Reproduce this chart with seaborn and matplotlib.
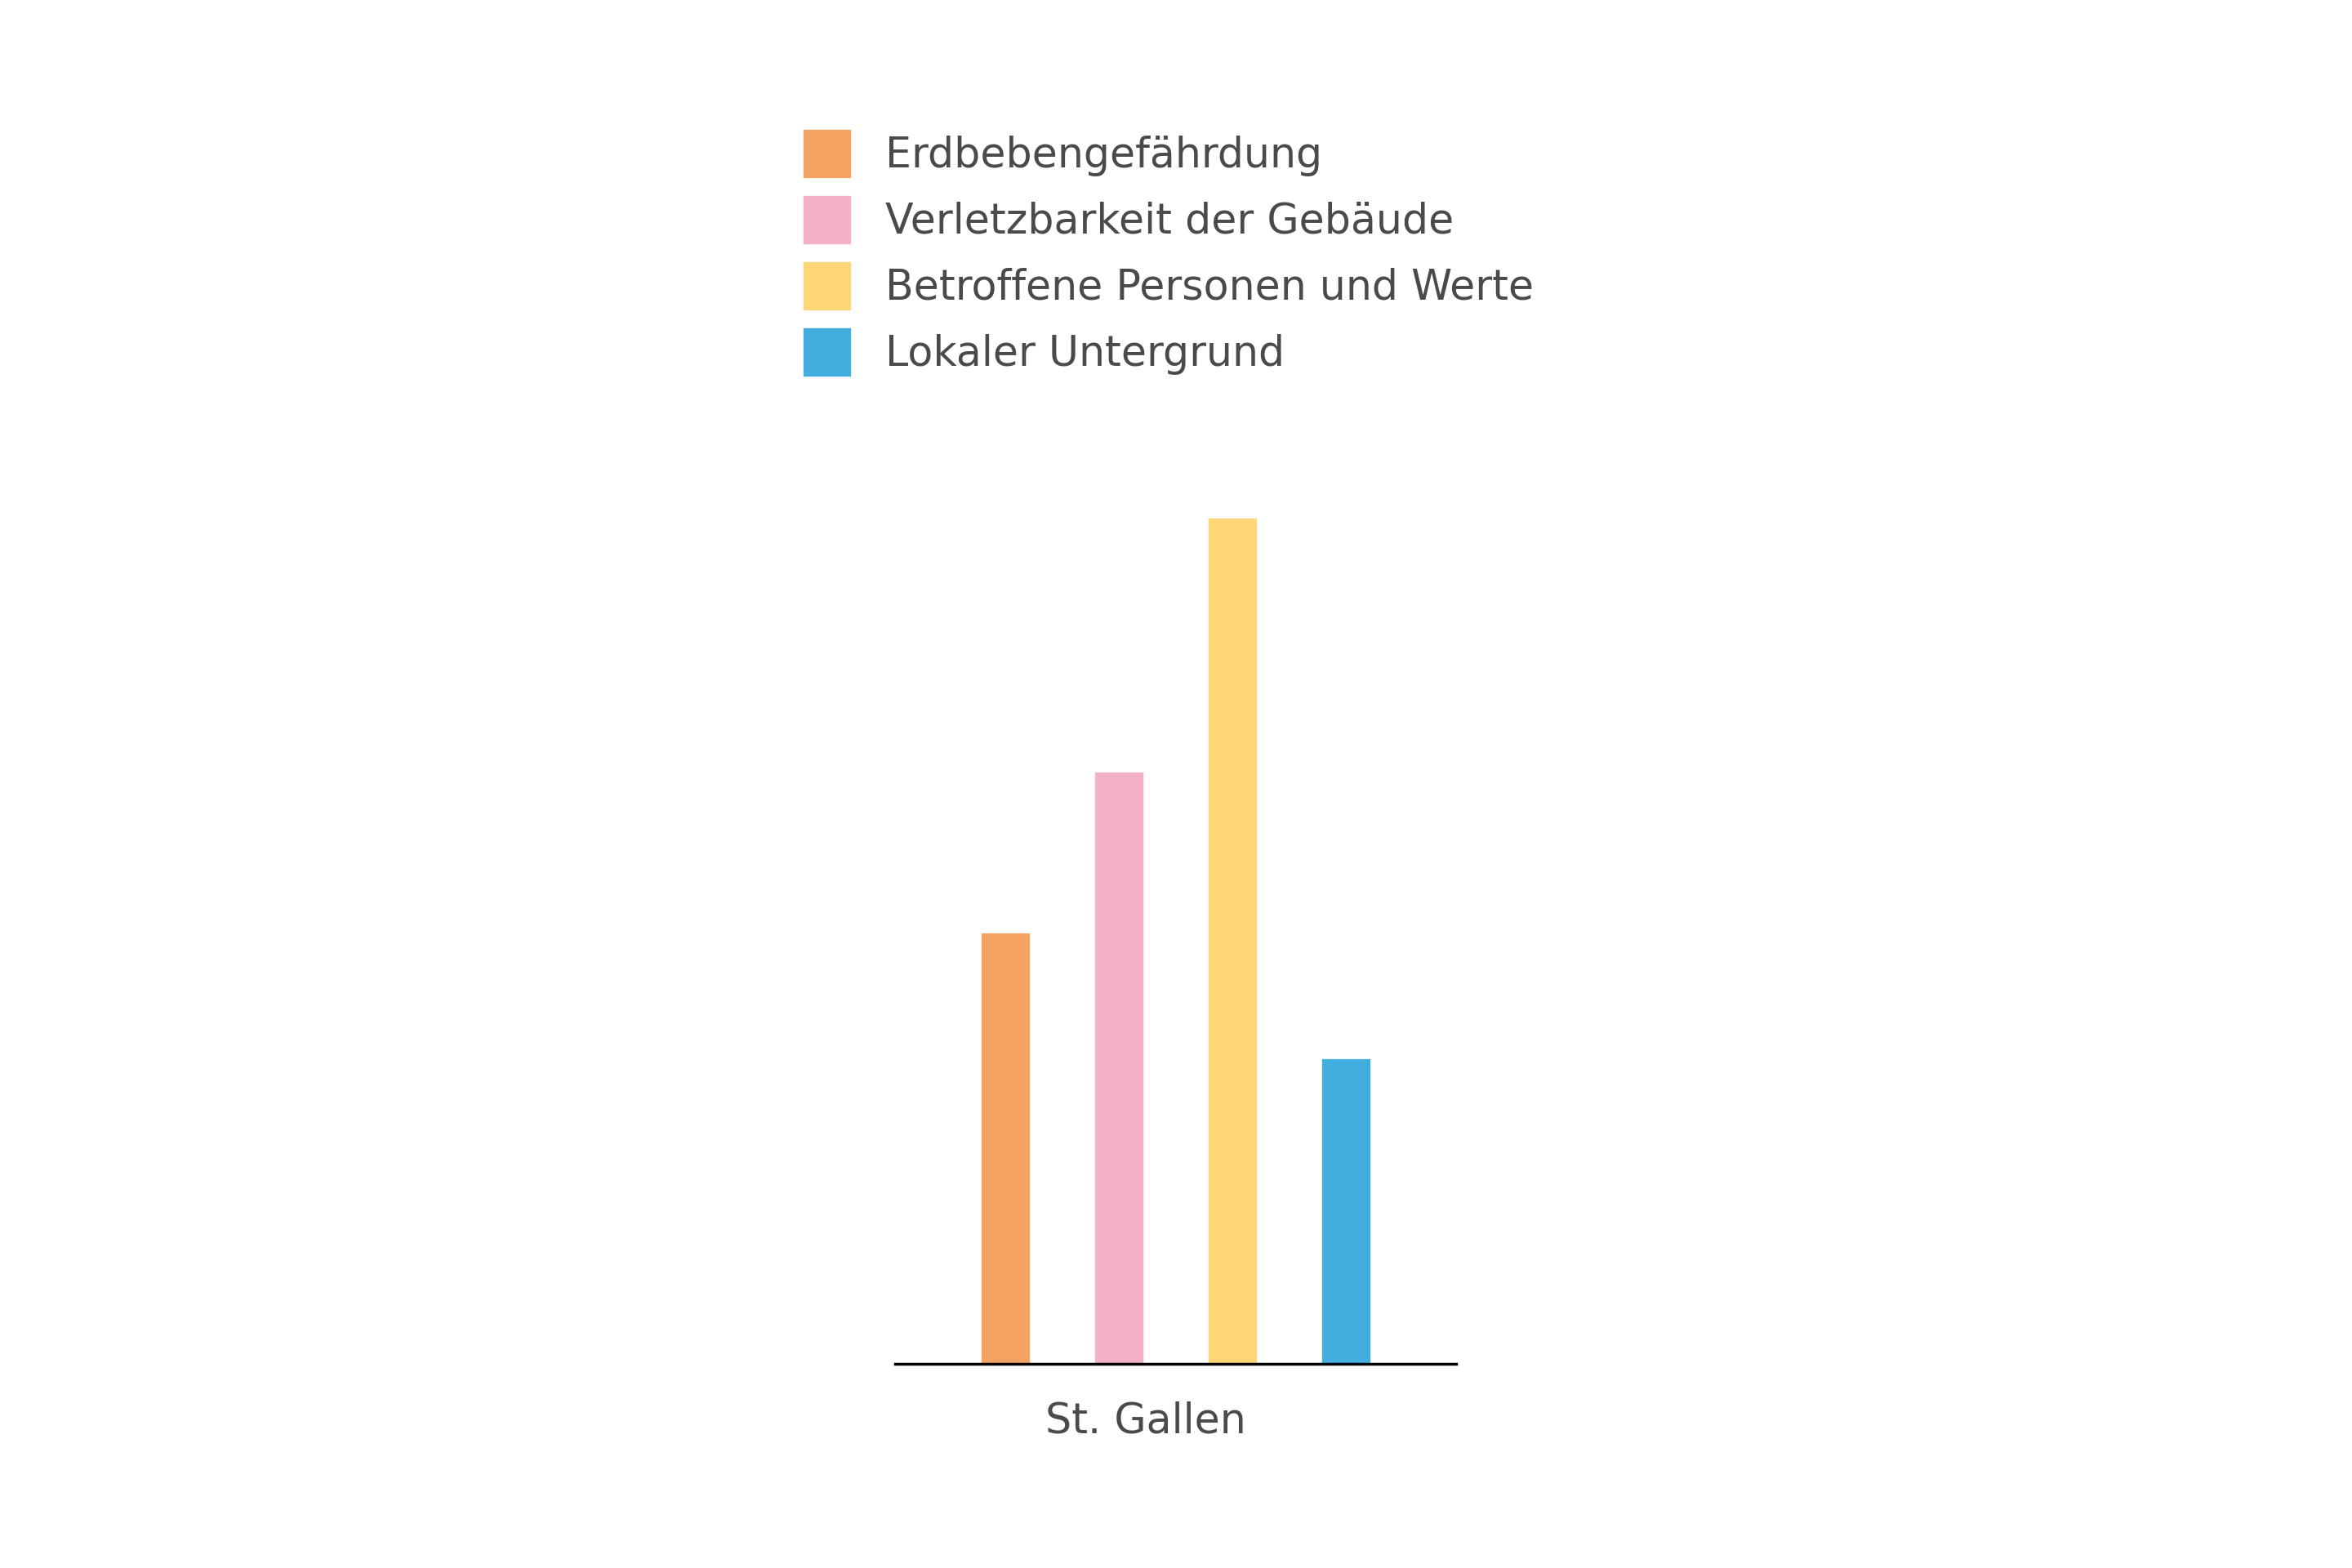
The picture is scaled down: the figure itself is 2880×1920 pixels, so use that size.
import pandas as pd
import matplotlib.pyplot as plt
import seaborn as sns

# Daten
region = ['St. Gallen']
kategorien = ['Erdbebengefährdung', 'Verletzbarkeit der Gebäude',
              'Betroffene Personen und Werte', 'Lokaler Untergrund']
werte = [2.55, 3.5, 5.0, 1.81]
farben = ['#F5A363', '#F4B0C8', '#FFD677', '#42AEE0']

df = pd.DataFrame({
    'Region': region * len(kategorien),
    'Kategorie': kategorien,
    'Wert': werte,
})

sns.set_style('white')
plt.rcParams['font.family'] = ['DejaVu Sans']
textfarbe = '#4a4a4a'

fig = plt.figure(figsize=(15, 10), dpi=192)
# Achse: x 1096..1783 px, Basislinie bei 1670 px
ax = fig.add_axes([1096 / 2880, 250 / 1920, 687 / 2880, 1070 / 1920])

sns.barplot(data=df, x='Region', y='Wert', hue='Kategorie',
            hue_order=kategorien, palette=farben, width=0.8, gap=0.554,
            saturation=1, ax=ax, legend=True)

ax.set_xlim(-0.494, 0.494)
ax.set_ylim(0, 5.159)
ax.set_xlabel('')
ax.set_ylabel('')
ax.set_yticks([])
ax.set_xticks([-0.053])
ax.set_xticklabels(region, fontsize=19, color=textfarbe)
ax.tick_params(axis='x', length=0, pad=17)

sns.despine(ax=ax, left=True)
ax.spines['bottom'].set_color('black')
ax.spines['bottom'].set_linewidth(1.3)

handles, labels = ax.get_legend_handles_labels()
ax.get_legend().remove()
leg = fig.legend(handles, labels, loc='upper left',
                 bbox_to_anchor=(982 / 2880, 1 - 157 / 1920),
                 frameon=False, fontsize=19, handlelength=1.21,
                 handleheight=1.5, handletextpad=0.8, labelspacing=0.38,
                 borderpad=0, borderaxespad=0)
for t in leg.get_texts():
    t.set_color(textfarbe)

fig.savefig('out.png', dpi=192, facecolor='white')
